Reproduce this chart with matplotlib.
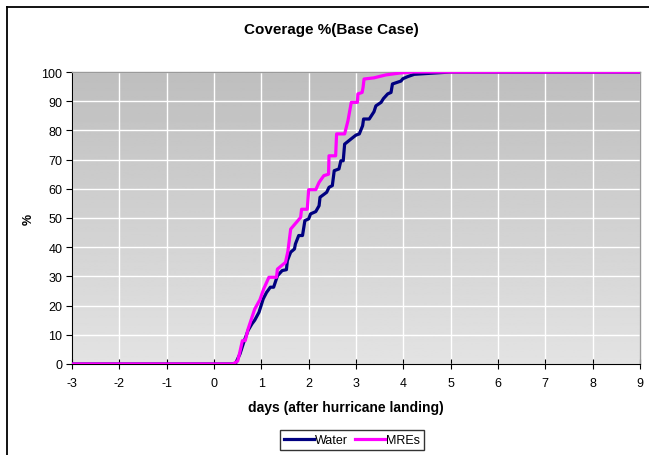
import numpy as np
import matplotlib.pyplot as plt
from matplotlib.lines import Line2D

plt.rcParams['font.family'] = ['Liberation Sans', 'DejaVu Sans']
plt.rcParams['axes.unicode_minus'] = False

# values
water_days = [-3, 0.45, 0.55, 0.63, 0.72, 0.80, 0.86, 0.95, 1.04, 1.11, 1.19, 1.26,
              1.34, 1.44, 1.53, 1.55, 1.62, 1.70, 1.72, 1.79, 1.87, 1.92, 2.00,
              2.04, 2.15, 2.22, 2.24, 2.38, 2.43, 2.50, 2.54, 2.64, 2.68, 2.73,
              2.76, 2.89, 3.00, 3.07, 3.14, 3.16, 3.28, 3.38, 3.42, 3.53, 3.58,
              3.67, 3.74, 3.77, 3.95, 3.99, 4.09, 4.23, 4.51, 5.0, 9]
water_pct = [0, 0, 3.5, 7.5, 11.5, 13.7, 15, 17.7, 22.3, 24.5, 26.3, 26.3,
             30.2, 32, 32.3, 35.4, 38.3, 39.4, 41.1, 44, 44, 49.1, 49.7,
             51.4, 52.2, 54.2, 57.1, 58.8, 60.5, 61.1, 66.2, 66.8, 69.6, 69.6,
             75.3, 77, 78.4, 78.8, 81.6, 83.9, 83.9, 86.4, 88.4, 89.6, 90.9,
             92.5, 93, 95.9, 96.9, 97.7, 98.4, 99.2, 99.5, 100, 100]

mre_days = [-3, 0.40, 0.50, 0.545, 0.60, 0.66, 0.72, 0.79, 0.86, 0.97, 1.05, 1.16,
            1.32, 1.34, 1.51, 1.56, 1.62, 1.83, 1.85, 1.97, 2.00, 2.15, 2.22,
            2.32, 2.42, 2.43, 2.57, 2.59, 2.76, 2.83, 2.90, 3.03, 3.04, 3.13,
            3.15, 3.17, 3.38, 3.63, 3.95, 4.2, 9]
mre_pct = [0, 0, 1, 4, 8, 8, 12, 15.4, 18.8, 22, 25.7, 29.7,
           29.7, 32.5, 34.8, 38.5, 46.2, 50.2, 53, 53, 59.7, 59.7, 62.2,
           64.5, 65, 71.3, 71.3, 78.8, 78.8, 83.3, 89.6, 89.6, 92.5, 93,
           94.8, 97.6, 98, 99, 99.7, 100, 100]

fig = plt.figure(figsize=(6.49, 4.56), dpi=100)
ax = fig.add_axes([72 / 649, 1 - 365 / 456, (640 - 72) / 649, (365 - 73) / 456])

# outer chart border (left and top visible)
fig.add_artist(Line2D([7 / 649, 7 / 649], [0, 1 - 8 / 456], color='black', lw=1.3))
fig.add_artist(Line2D([7 / 649, 1], [1 - 8 / 456, 1 - 8 / 456], color='black', lw=1.3))

# gray gradient background, darker at the top
grad = np.linspace(0.89, 0.745, 256).reshape(-1, 1)
ax.imshow(grad, cmap='gray', vmin=0, vmax=1, aspect='auto',
          extent=[-3, 9, 0, 100], zorder=0, origin='lower')

ax.plot(water_days, water_pct, color='#000080', lw=2.3, label='Water', zorder=3)
ax.plot(mre_days, mre_pct, color='#FF00FF', lw=2.3, label='MREs', zorder=3)

ax.set_xlim(-3, 9)
ax.set_ylim(0, 100)
ax.set_xticks(np.arange(-3, 10, 1))
ax.set_yticks(np.arange(0, 101, 10))
ax.grid(True, color='white', lw=1)
ax.set_axisbelow(True)

for s in ['top', 'right']:
    ax.spines[s].set_color('#9a9a9a')
    ax.spines[s].set_linewidth(1.0)
ax.spines['left'].set_color('black')
ax.spines['bottom'].set_color('black')
ax.tick_params(axis='x', direction='inout', length=7, labelsize=9, pad=6)
ax.tick_params(axis='y', direction='out', length=4, labelsize=9, pad=3)

fig.text(331 / 649, 1 - 30 / 456, 'Coverage %(Base Case)', fontsize=11,
         fontweight='bold', ha='center', va='center')
fig.text(346 / 649, 1 - 408 / 456, 'days (after hurricane landing)', fontsize=10,
         fontweight='bold', ha='center', va='center')
ax.set_ylabel('%', fontsize=9, fontweight='bold', labelpad=5)

leg = fig.legend(loc='center', bbox_to_anchor=(352 / 649, 1 - 441 / 456), ncol=2,
                 fontsize=9, frameon=True, fancybox=False, edgecolor='black',
                 handlelength=2.4, columnspacing=0.5, handletextpad=0.1,
                 borderpad=0.35)
leg.get_frame().set_linewidth(1.0)

fig.savefig('out.png', dpi=100)
